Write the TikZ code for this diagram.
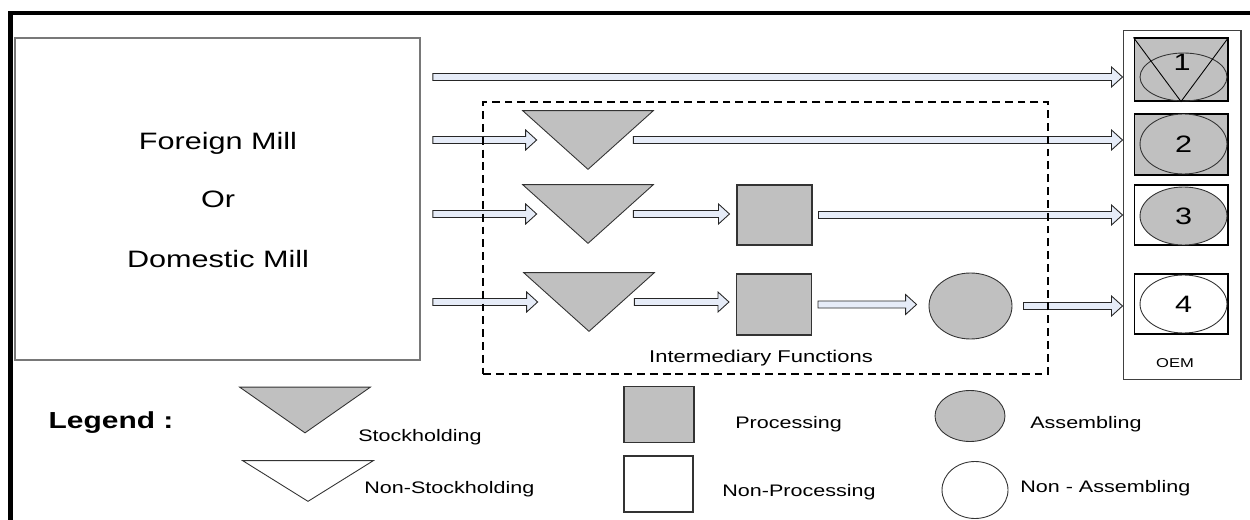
\documentclass[tikz,border=0pt]{standalone}
\usepackage{fontspec}
\setmainfont{Liberation Sans}[FakeStretch=1.29]
\usetikzlibrary{shapes.geometric,calc}

\definecolor{shade}{RGB}{192,192,192}
\definecolor{flow}{RGB}{230,236,248}
\definecolor{rim}{RGB}{120,120,120}

\tikzset{
  blockarrow/.style={draw=black!85, fill=flow, line width=0.5pt,
    to path={let \p1=(\tikztostart), \p2=(\tikztotarget) in
      (\x1,\y1+0.07cm) -- (\x2-0.22cm,\y1+0.07cm) -- (\x2-0.22cm,\y1+0.2cm) -- (\x2,\y1)
      -- (\x2-0.22cm,\y1-0.2cm) -- (\x2-0.22cm,\y1-0.07cm) -- (\x1,\y1-0.07cm) -- cycle}},
  tribox/.style={inner sep=0pt, minimum width=2.6cm, minimum height=1.16cm},
  stockfill/.style={draw=black!80, fill=shade, line width=0.5pt},
  procbox/.style={draw=black!80, fill=shade, line width=0.6pt, inner sep=0pt, minimum width=1.5cm, minimum height=1.2cm},
  asmbl/.style={ellipse, draw=black!80, fill=shade, line width=0.5pt, inner sep=0pt},
  oembox/.style={draw=black, line width=0.6pt, inner sep=0pt, minimum width=1.88cm, minimum height=1.2cm},
  digit/.style={font=\fontsize{13.5}{16}\selectfont},
  bigtxt/.style={font=\fontsize{13.5}{16}\selectfont, inner sep=0pt, anchor=base},
  smalltxt/.style={font=\fontsize{9.5}{11}\selectfont, inner sep=0pt, anchor=base west}
}

\begin{document}
\begin{tikzpicture}[x=0.02cm, y=-0.02cm]
\useasboundingbox (0,0) rectangle (1250,520);
\draw[line width=2.8pt] (10.5,520) -- (10.5,13) -- (1250,13);

% mill
\node[draw=rim, line width=1.1pt, inner sep=0pt, minimum width=8.1cm, minimum height=6.44cm] (mill) at (217.5,199) {};
\node[bigtxt] (mill1) at (218,150) {Foreign Mill};
\node[bigtxt] (mill2) at (218,208) {Or};
\node[bigtxt] (mill3) at (218,267) {Domestic Mill};

% OEM
\node[draw=black!75, line width=0.6pt, inner sep=0pt, minimum width=2.36cm, minimum height=7cm] (oem) at (1182,205) {};
\node[oembox, fill=shade, minimum height=1.26cm] (b1) at (1181,69.5) {};
\node[oembox, fill=shade, minimum height=1.22cm] (b2) at (1181,144.5) {};
\node[oembox] (b3) at (1181,215) {};
\node[oembox] (b4) at (1181,304) {};
\node[asmbl, fill=none, minimum width=1.74cm, minimum height=0.96cm] (e1) at (1183.5,77) {};
\draw[line width=0.5pt] (b1.north west) -- (b1.south) -- (b1.north east);
\node[digit, inner sep=0pt, anchor=base] (n1) at (1182,71) {1};
\node[asmbl, digit, minimum width=1.74cm, minimum height=1.2cm] (e2) at (1183.5,144) {2};
\node[asmbl, digit, minimum width=1.74cm, minimum height=1.16cm] (e3) at (1183.5,216) {3};
\node[asmbl, digit, fill=white, minimum width=1.74cm, minimum height=1.16cm] (e4) at (1183.5,304) {4};
\node[font=\fontsize{7.3}{9}\selectfont, inner sep=0pt, anchor=base] (oemtxt) at (1175,367) {OEM};

% intermediary functions
\node[tribox] (st2) at (588,140) {};
\node[tribox] (st3) at (588,214) {};
\node[tribox] (st4) at (589,302) {};
\node[procbox] (pr3) at (774.5,215) {};
\node[procbox, minimum height=1.22cm] (pr4) at (774,304.5) {};
\node[asmbl, minimum width=1.66cm, minimum height=1.32cm] (as4) at (970.5,306) {};

\draw[blockarrow] ([xshift=0.24cm]mill.east |- e1) to (oem.west);
\foreach \r in {st2,st3,st4}
  \draw[blockarrow] ([xshift=0.24cm]mill.east |- \r) to ([xshift=0.28cm]\r.west);
\draw[blockarrow] ([xshift=-0.4cm]st2.east) to (oem.west);
\draw[blockarrow] ([xshift=-0.4cm]st3.east) to ([xshift=-0.14cm]pr3.west);
\draw[blockarrow] ([xshift=0.12cm]pr3.east) to (oem.west);
\draw[blockarrow] ([xshift=-0.4cm]st4.east) to ([xshift=-0.14cm]pr4.west);
\draw[blockarrow] ([xshift=0.12cm]pr4.east) to ([xshift=-0.24cm]as4.west);
\draw[blockarrow] ([xshift=0.22cm]as4.east) to (oem.west);

\node[draw, dash pattern=on 4.5pt off 2.8pt, line width=0.8pt, inner sep=0pt, minimum width=11.3cm, minimum height=5.44cm] (inter) at (765.5,238) {};
\node[font=\fontsize{9.7}{12}\selectfont, inner sep=0pt, anchor=base] (intertxt) at (761,362) {Intermediary Functions};

% legend
\node[font=\bfseries\fontsize{13.2}{16}\selectfont, inner sep=0pt, anchor=base] (legend) at (111,428) {Legend :};
\node[tribox, minimum height=0.9cm] (lst) at (305,410) {};
\node[tribox, minimum height=0.8cm] (lnst) at (308,481) {};
\foreach \t in {st2,st3,st4,lst}
  \draw[stockfill] (\t.north west) -- (\t.north east) -- (\t.south) -- cycle;
\draw[stockfill, fill=white] (lnst.north west) -- (lnst.north east) -- (lnst.south) -- cycle;
\node[procbox, minimum width=1.4cm, minimum height=1.12cm] (lpr) at (659,414.5) {};
\node[procbox, fill=white, minimum width=1.38cm, minimum height=1.12cm] (lnpr) at (658.5,484) {};
\node[asmbl, minimum width=1.4cm, minimum height=1.02cm] (las) at (970,416) {};
\node[asmbl, fill=white, minimum width=1.32cm, minimum height=1.14cm] (lnas) at (975,490) {};

\node[smalltxt] (tst) at (358,441) {Stockholding};
\node[smalltxt] (tnst) at (364,493) {Non-Stockholding};
\node[smalltxt] (tpr) at (735,428) {Processing};
\node[smalltxt] (tnpr) at (722,496) {Non-Processing};
\node[smalltxt] (tas) at (1030,428) {Assembling};
\node[smalltxt] (tnas) at (1020,492) {Non - Assembling};
\end{tikzpicture}
\end{document}
